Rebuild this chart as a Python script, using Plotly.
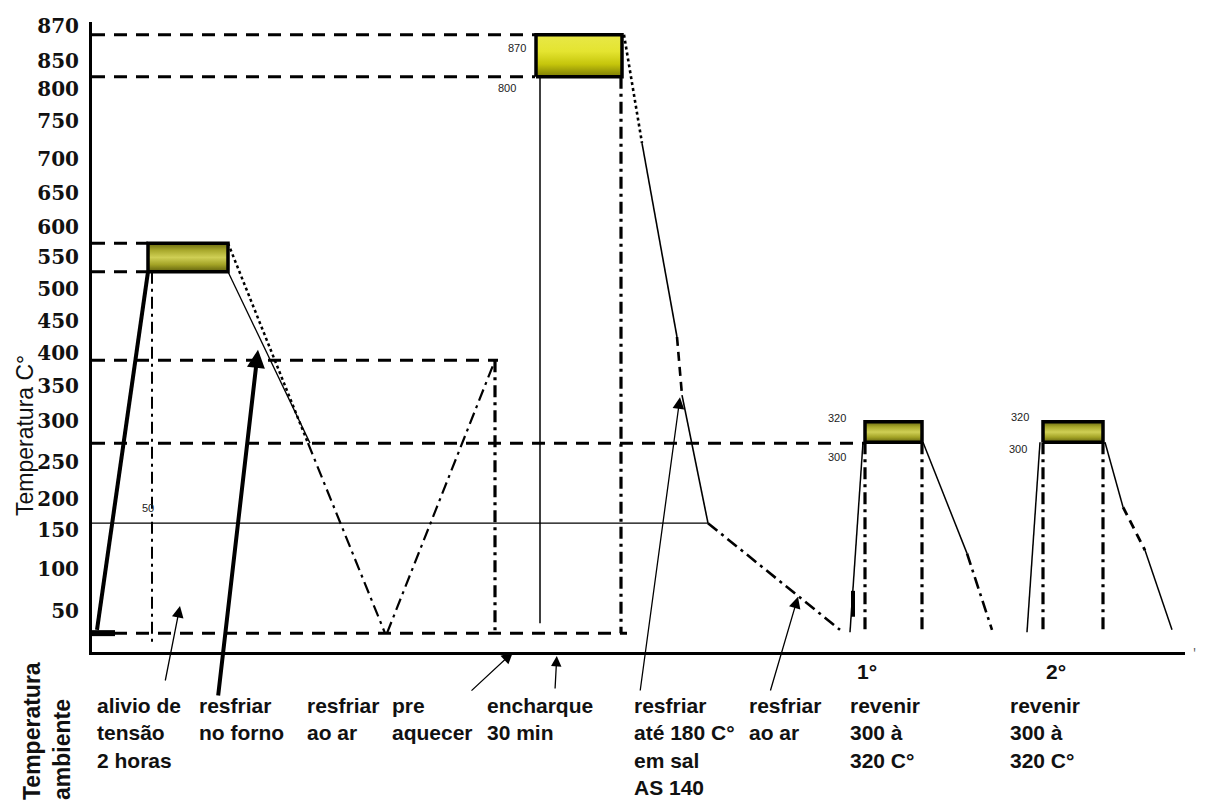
import numpy as np
import plotly.graph_objects as go

# ---------------- data ----------------
# temperature tick labels of the (non-uniform) vertical scale
TICK_TEMPS = [50, 100, 150, 200, 250, 300, 350, 400, 450, 500, 550, 600,
              650, 700, 750, 800, 850, 870]

# soak stages (boxes): start/end time (arbitrary time units) and temperature band
SOAK_NAMES = ["alivio de tensao", "tempera", "1 revenido", "2 revenido"]
SOAK_START = [56, 444, 773, 951]
SOAK_END = [136, 530, 830, 1011]
SOAK_LOW = [527, 822, 274, 274]
SOAK_HIGH = [573, 865, 299, 299]

# dashed reference levels (temperature) and where they stop (time)
GUIDE_TEMP = [865, 822, 573, 527, 389, 273, 23]
GUIDE_END = [443, 443, 56, 56, 406, 773, 535]

# thin solid reference level
REF_TEMP = 161
REF_END = 616

# dash-dot vertical time markers
VMARK_TIME = [60, 403, 529, 773, 830, 951, 1011]
VMARK_TOP = [527, 389, 822, 274, 274, 274, 274]
VMARK_BOTTOM = [11, 23, 23, 23, 23, 23, 23]

# process path pieces: (times, temperatures)
HEAT1_TIME, HEAT1_TEMP = [5, 56], [27, 527]
COOL1_UP_TIME, COOL1_UP_TEMP = [136, 216], [573, 273]
COOL1_LO_TIME, COOL1_LO_TEMP = [136, 218], [527, 273]
COOL1_END_TIME, COOL1_END_TEMP = [216, 293], [273, 23]
PREHEAT_TIME, PREHEAT_TEMP = [295, 403], [23, 389]
HEAT2_TIME, HEAT2_TEMP = [448, 448], [35, 822]
QUENCH_TIME = [532, 550, 585, 590, 616, 748]
QUENCH_TEMP = [865, 721, 425, 337, 161, 27]
QUENCH_STYLE = ["dot", "solid", "dash", "solid", "dashdot"]
TEMPER1_UP_TIME, TEMPER1_UP_TEMP = [758, 771], [24, 274]
TEMPER1_MARK_TIME, TEMPER1_MARK_TEMP = [761, 761], [43, 74]
TEMPER1_DOWN_TIME, TEMPER1_DOWN_TEMP = [831, 875, 900], [274, 120, 27]
TEMPER1_DOWN_STYLE = ["solid", "dashdot"]
TEMPER2_UP_TIME, TEMPER2_UP_TEMP = [935, 948], [24, 274]
TEMPER2_DOWN_TIME, TEMPER2_DOWN_TEMP = [1013, 1031, 1053, 1080], [274, 187, 124, 27]
TEMPER2_DOWN_STYLE = ["solid", "dash", "solid"]

# arrows: head (time, temperature)
ARROW_HEAD_TIME = [88, 166, 421, 465, 588, 706]
ARROW_HEAD_TEMP = [56, 405, 0, 0, 334, 67]

# text
STEP_TEXTS = ["alivio de<br>tensão<br>2 horas", "resfriar<br>no forno", "resfriar<br>ao ar",
              "pre<br>aquecer", "encharque<br>30 min",
              "resfriar<br>até 180 C°<br>em sal<br>AS 140", "resfriar<br>ao ar",
              "revenir<br>300 à<br>320 C°", "revenir<br>300 à<br>320 C°"]
ORDINAL_TEXTS = ["1°", "2°"]

# ---------------- layout constants ----------------
W, H = 1218, 809
AXIS_ROW = 652          # pixel row of the time axis
LEFT = 92
TOP = 22
RIGHT_EDGE = 1185
TICK_ROWS = [611, 569, 530, 499, 462, 421, 386, 353, 321, 289, 257, 227,
             193, 159, 121, 89, 61, 26]


def ypos(temps):
    xp = [0] + TICK_TEMPS
    fp = [AXIS_ROW] + TICK_ROWS
    return AXIS_ROW - np.interp(np.asarray(temps, dtype=float), xp, fp)


def row(px_row):
    return AXIS_ROW - px_row


def px_x(px):
    return (px - LEFT) / (RIGHT_EDGE - LEFT)


def px_y(py):
    return (AXIS_ROW - py) / (AXIS_ROW - TOP)


DASH = {
    "guide": "13px,9px",
    "dashdot": "12px,5px,3px,5px",
    "dash": "9px,6px",
    "dot": "3px,3px",
    "solid": "solid",
}

fig = go.Figure()


def add_line(t, temps, width=2, dash="solid"):
    fig.add_trace(go.Scatter(x=list(t), y=ypos(temps), mode="lines",
                             line=dict(color="black", width=width, dash=DASH[dash]),
                             hoverinfo="skip", showlegend=False))


# reference dashed levels
for temp, end in zip(GUIDE_TEMP, GUIDE_END):
    add_line([0, end], [temp, temp], width=3, dash="guide")
add_line([0, REF_END], [REF_TEMP, REF_TEMP], width=1.2)

# vertical markers
for i, (t, top, bot) in enumerate(zip(VMARK_TIME, VMARK_TOP, VMARK_BOTTOM)):
    add_line([t, t], [top, bot], width=2 if i == 0 else 3.2, dash="dashdot")

# process path
add_line([0, 23], [23, 23], width=6)
add_line(HEAT1_TIME, HEAT1_TEMP, width=4)
add_line(COOL1_UP_TIME, COOL1_UP_TEMP, width=2.5, dash="dot")
add_line(COOL1_LO_TIME, COOL1_LO_TEMP, width=1.3)
add_line(COOL1_END_TIME, COOL1_END_TEMP, width=2.2, dash="dashdot")
add_line(PREHEAT_TIME, PREHEAT_TEMP, width=2.2, dash="dashdot")
add_line(HEAT2_TIME, HEAT2_TEMP, width=1.5)
for i, st in enumerate(QUENCH_STYLE):
    add_line(QUENCH_TIME[i:i + 2], QUENCH_TEMP[i:i + 2],
             width=1.6 if st == "solid" else 2.6, dash=st)
add_line(TEMPER1_UP_TIME, TEMPER1_UP_TEMP, width=1.5)
add_line(TEMPER1_MARK_TIME, TEMPER1_MARK_TEMP, width=4)
for i, st in enumerate(TEMPER1_DOWN_STYLE):
    add_line(TEMPER1_DOWN_TIME[i:i + 2], TEMPER1_DOWN_TEMP[i:i + 2],
             width=1.5 if st == "solid" else 2.6, dash=st)
add_line(TEMPER2_UP_TIME, TEMPER2_UP_TEMP, width=1.5)
for i, st in enumerate(TEMPER2_DOWN_STYLE):
    add_line(TEMPER2_DOWN_TIME[i:i + 2], TEMPER2_DOWN_TEMP[i:i + 2],
             width=1.5 if st == "solid" else 2.8, dash=st)

# soak boxes
OLIVE = [[0, "#5f5f0c"], [0.25, "#a3a326"], [0.5, "#cfcf55"], [0.75, "#a9a92c"], [1, "#66660e"]]
YELLOW = [[0, "#7c7c04"], [0.3, "#c6c60c"], [0.6, "#e4e430"], [1, "#e8e848"]]
for i, (t0, t1, lo, hi) in enumerate(zip(SOAK_START, SOAK_END, SOAK_LOW, SOAK_HIGH)):
    fig.add_trace(go.Scatter(
        x=[t0, t1, t1, t0, t0], y=ypos([lo, lo, hi, hi, lo]), mode="lines",
        fill="toself",
        fillgradient=dict(type="vertical", colorscale=YELLOW if i == 1 else OLIVE),
        line=dict(color="black", width=3.5), hoverinfo="skip", showlegend=False))

# ---------------- annotations ----------------
ann = []
ARROW_TAIL_TIME = [73, 126, 378, 463, 548, 678]
ARROW_TAIL_ROW = [682, 697, 692, 690, 692, 692]
ARROW_WIDTH = [1.3, 4, 1.3, 1.3, 1.3, 1.3]
ARROW_SIZE = [1.8, 0.9, 1.8, 1.6, 1.8, 1.8]
ARROW_STANDOFF = [0, 0, 0, 4, 0, 0]
for ht, hT, tt, tr, w, s, so in zip(ARROW_HEAD_TIME, ARROW_HEAD_TEMP, ARROW_TAIL_TIME,
                                     ARROW_TAIL_ROW, ARROW_WIDTH, ARROW_SIZE, ARROW_STANDOFF):
    ann.append(dict(x=ht, y=float(ypos(hT)), ax=tt, ay=row(tr), xref="x", yref="y",
                    axref="x", ayref="y", text="", showarrow=True, arrowhead=2,
                    arrowsize=s, arrowwidth=w, arrowcolor="black", standoff=so))

LABEL_FONT = dict(family="Liberation Sans, Arial, sans-serif", size=21, color="#111", weight="bold")
STEP_X_PX = [95, 197, 305, 390, 485, 632, 747, 848, 1008]
for txt, xp in zip(STEP_TEXTS, STEP_X_PX):
    ann.append(dict(x=px_x(xp), y=px_y(692), xref="paper", yref="paper", text=txt,
                    showarrow=False, xanchor="left", yanchor="top", align="left",
                    font=LABEL_FONT))
ORDINAL_X_PX = [867, 1056]
for txt, xp in zip(ORDINAL_TEXTS, ORDINAL_X_PX):
    ann.append(dict(x=px_x(xp), y=px_y(672), xref="paper", yref="paper", text=txt,
                    showarrow=False, xanchor="center", yanchor="middle", font=LABEL_FONT))

# small value labels next to the boxes
SMALL = dict(family="Liberation Sans, Arial, sans-serif", size=11, color="#222")
small_labels = [("870", SOAK_START[1] - 8, row(48)), ("800", SOAK_START[1] - 18, row(88)),
                ("320", SOAK_START[2] - 17, row(418)), ("300", SOAK_START[2] - 17, row(457)),
                ("320", SOAK_START[3] - 12, row(417)), ("300", SOAK_START[3] - 14, row(449)),
                ("50", VMARK_TIME[0] - 4, row(508))]
for txt, x, y in small_labels:
    ann.append(dict(x=x, y=y, xref="x", yref="y", text=txt, showarrow=False,
                    xanchor="right" if txt != "50" else "center", yanchor="middle", font=SMALL))

ann.append(dict(x=px_x(25), y=px_y(436), xref="paper", yref="paper", text="Temperatura C°",
                textangle=-90, xanchor="center", yanchor="middle", showarrow=False,
                font=dict(family="Liberation Sans, Arial, sans-serif", size=23, color="#111")))
ann.append(dict(x=px_x(47), y=px_y(731), xref="paper", yref="paper",
                text="Temperatura<br>ambiente", textangle=-90, xanchor="center",
                yanchor="middle", showarrow=False, align="left",
                font=dict(family="Liberation Sans, Arial, sans-serif", size=23,
                          color="#111", weight="bold")))
ann.append(dict(x=px_x(1198), y=px_y(664), xref="paper", yref="paper", text="'",
                showarrow=False, font=dict(size=14, color="#555")))

fig.update_layout(
    width=W, height=H,
    margin=dict(l=LEFT, r=W - RIGHT_EDGE, t=TOP, b=H - AXIS_ROW, pad=0, autoexpand=False),
    paper_bgcolor="white", plot_bgcolor="white",
    annotations=ann,
    xaxis=dict(range=[0, RIGHT_EDGE - LEFT], showline=True, linewidth=3, linecolor="black",
               showgrid=False, zeroline=False, showticklabels=False, ticks=""),
    yaxis=dict(range=[0, AXIS_ROW - TOP], showline=True, linewidth=3, linecolor="black",
               showgrid=False, zeroline=False, ticks="",
               tickvals=list(row(np.array(TICK_ROWS))), ticktext=[str(v) for v in TICK_TEMPS],
               ticklabelstandoff=6,
               tickfont=dict(family="DejaVu Serif, serif", size=20, color="#111", weight="bold")),
)

fig.write_html("out.html", config={"displayModeBar": False},
               post_script="document.body.style.margin='0px';")
